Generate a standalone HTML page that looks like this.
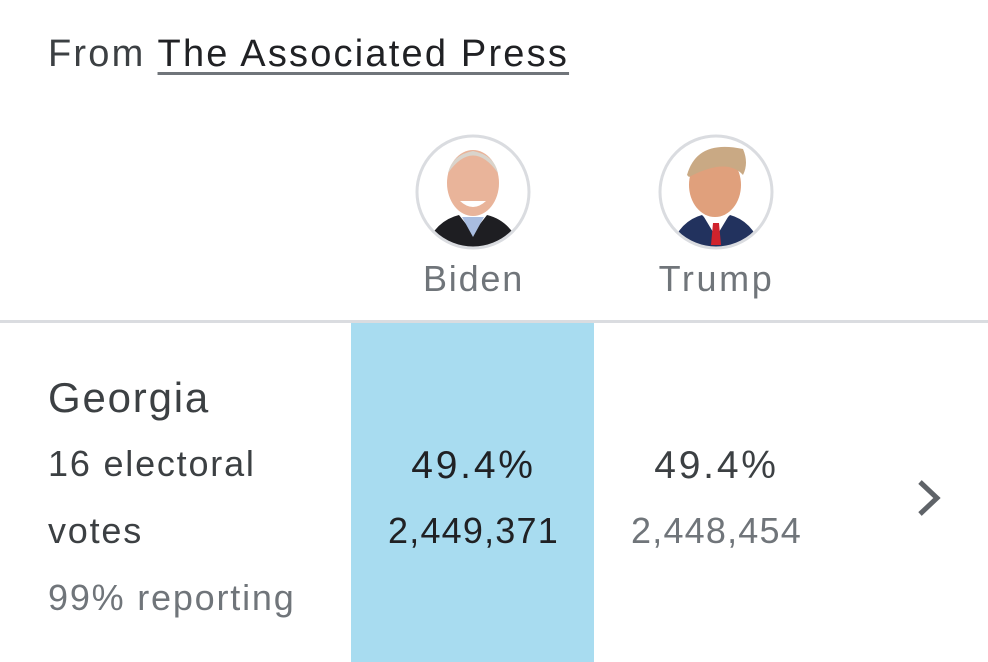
<!DOCTYPE html>
<html><head><meta charset="utf-8"><style>
body{margin:0;width:988px;height:662px;overflow:hidden;background:#fff;font-family:"Liberation Sans",Roboto,sans-serif;position:relative}
.t{position:absolute;white-space:nowrap;line-height:1;letter-spacing:1.8px}
.c{text-align:center;width:243px;text-indent:2px}
</style></head><body>
<div class="t" style="left:48px;top:35px;font-size:38px;color:#3c4043;letter-spacing:2.2px">From <span style="color:#202124;text-decoration:underline;text-decoration-color:#70757a;text-decoration-thickness:3px;text-underline-offset:6px">The Associated Press</span></div>

<svg style="position:absolute;left:414px;top:133px" width="118" height="118" viewBox="0 0 118 118">
<defs><clipPath id="a"><circle cx="59" cy="59" r="55"/></clipPath></defs>
<g clip-path="url(#a)"><rect width="118" height="118" fill="#fff"/>
<ellipse cx="59" cy="50" rx="26" ry="33" fill="#e9b49a"/><path d="M34 40 Q59 5 84 40 Q80 22 59 18 Q38 22 34 40Z" fill="#d9d4cc"/>
<path d="M46 68 Q59 80 72 68 Z" fill="#fff"/>
<path d="M10 118 Q20 88 45 82 L59 100 L73 82 Q98 88 108 118Z" fill="#1e1e22"/><path d="M48 84 L59 104 L70 84Z" fill="#a9bde0"/></g>
<circle cx="59" cy="59" r="56" fill="none" stroke="#dadce0" stroke-width="3"/></svg>

<svg style="position:absolute;left:657px;top:133px" width="118" height="118" viewBox="0 0 118 118">
<defs><clipPath id="b"><circle cx="59" cy="59" r="55"/></clipPath></defs>
<g clip-path="url(#b)"><rect width="118" height="118" fill="#fff"/>
<ellipse cx="58" cy="52" rx="26" ry="32" fill="#e0a07c"/><path d="M30 42 Q40 6 86 16 Q92 30 86 42 Q70 24 32 44Z" fill="#c9a984"/>
<path d="M12 118 Q22 88 45 82 L59 96 L73 82 Q96 88 106 118Z" fill="#22325e"/><path d="M47 84 L59 104 L71 84Z" fill="#fff"/><path d="M56 90 L62 90 L64 112 L54 112Z" fill="#d0232d"/></g>
<circle cx="59" cy="59" r="56" fill="none" stroke="#dadce0" stroke-width="3"/></svg>

<div class="t c" style="left:351px;top:261px;font-size:36px;color:#70757a">Biden</div>
<div class="t c" style="left:594px;top:261px;font-size:36px;color:#70757a;letter-spacing:2.6px">Trump</div>

<div style="position:absolute;left:0;top:320px;width:988px;height:3px;background:#dadce0"></div>
<div style="position:absolute;left:351px;top:323px;width:243px;height:339px;background:#a8dcf0"></div>

<div class="t" style="left:48px;top:377px;font-size:42px;color:#3c4043">Georgia</div>
<div class="t" style="left:48px;top:446px;font-size:36px;color:#3c4043">16 electoral</div>
<div class="t" style="left:48px;top:513px;font-size:36px;color:#3c4043">votes</div>
<div class="t" style="left:48px;top:580px;font-size:36px;color:#70757a">99% reporting</div>

<div class="t c" style="left:351px;top:446px;font-size:39px;color:#202124;letter-spacing:2.8px">49.4%</div>
<div class="t c" style="left:351px;top:513px;font-size:36px;color:#202124;letter-spacing:1.2px">2,449,371</div>
<div class="t c" style="left:594px;top:446px;font-size:39px;color:#3c4043;letter-spacing:2.8px">49.4%</div>
<div class="t c" style="left:594px;top:513px;font-size:36px;color:#70757a;letter-spacing:1.2px">2,448,454</div>

<svg style="position:absolute;left:912px;top:478px" width="34" height="40"><path d="M8 4 L25 20 L8 36" fill="none" stroke="#5f6368" stroke-width="5"/></svg>
</body></html>
